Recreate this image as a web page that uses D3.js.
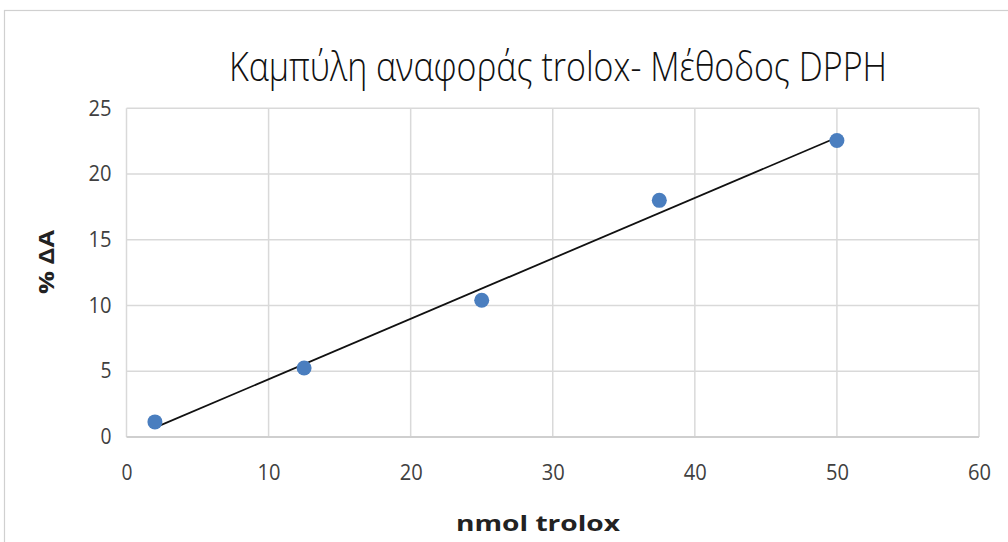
<!DOCTYPE html>
<html><head><meta charset="utf-8">
<script src="https://cdn.jsdelivr.net/npm/d3@7"></script>
<style>body{margin:0;background:#fff}svg{display:block}</style>
</head><body>
<script>
const xValues = [2, 12.5, 25, 37.5, 50];
const yValues = [1.15, 5.25, 10.4, 18.0, 22.55];
const xTicks = [0, 10, 20, 30, 40, 50, 60];
const yTicks = [0, 5, 10, 15, 20, 25];
const title = "Καμπύλη αναφοράς trolox- Μέθοδος DPPH";
const xTitle = "nmol trolox";
const yTitle = "% ΔA";

const W = 1008, H = 542;
const svg = d3.select("body").append("svg").attr("width", W).attr("height", H);
svg.append("rect").attr("x", 4.5).attr("y", 10.5).attr("width", 1020).attr("height", 560)
  .attr("fill", "#fff").attr("stroke", "#d0d0d0").attr("stroke-width", 1.2);

const x = d3.scaleLinear().domain([0, 60]).range([126.5, 979]);
const y = d3.scaleLinear().domain([0, 25]).range([437, 108.3]);

// gridlines
const g = svg.append("g");
g.selectAll(".vg").data(xTicks).join("line")
  .attr("x1", d => x(d)).attr("x2", d => x(d)).attr("y1", y(25)).attr("y2", y(0))
  .attr("stroke", "#d9d9d9").attr("stroke-width", 1.5);
g.selectAll(".hg").data(yTicks).join("line")
  .attr("x1", x(0)).attr("x2", x(60)).attr("y1", d => y(d)).attr("y2", d => y(d))
  .attr("stroke", d => d === 0 ? "#cfcfcf" : "#d9d9d9").attr("stroke-width", d => d === 0 ? 2 : 1.5);

// axes labels via d3 axes
const font = "'Open Sans', 'DejaVu Sans', sans-serif";
const xa = svg.append("g").attr("transform", `translate(0,${y(0)})`)
  .call(d3.axisBottom(x).tickValues(xTicks).tickSize(0).tickPadding(28));
xa.select(".domain").remove();
xa.selectAll("text").attr("font-family", font).attr("font-size", 21).attr("fill", "#404040")
  .attr("textLength", d => d === 0 ? 11 : 23).attr("lengthAdjust", "spacingAndGlyphs");
const ya = svg.append("g").attr("transform", `translate(${x(0)},0)`)
  .call(d3.axisLeft(y).tickValues(yTicks).tickSize(0).tickPadding(15));
ya.select(".domain").remove();
ya.selectAll("text").attr("font-family", font).attr("font-size", 21).attr("fill", "#404040")
  .attr("textLength", d => d < 10 ? 11 : 23).attr("lengthAdjust", "spacingAndGlyphs");

// trendline (least squares from data)
const mx = d3.mean(xValues), my = d3.mean(yValues);
const slope = d3.sum(xValues.map((v, i) => (v - mx) * (yValues[i] - my))) / d3.sum(xValues.map(v => (v - mx) ** 2));
const icpt = my - slope * mx;
const x0 = d3.min(xValues), x1 = d3.max(xValues);
svg.append("line").attr("x1", x(x0)).attr("y1", y(icpt + slope * x0))
  .attr("x2", x(x1)).attr("y2", y(icpt + slope * x1))
  .attr("stroke", "#111").attr("stroke-width", 1.8);

// points
svg.selectAll(".pt").data(xValues).join("circle")
  .attr("cx", d => x(d)).attr("cy", (d, i) => y(yValues[i])).attr("r", 7.5)
  .attr("fill", "#4a7ebf");

// titles
svg.append("text").attr("x", 558).attr("y", 81).attr("text-anchor", "middle")
  .attr("font-family", font).attr("font-weight", 300).attr("font-size", 40).attr("fill", "#111")
  .attr("textLength", 658).attr("lengthAdjust", "spacingAndGlyphs").text(title);
svg.append("text").attr("x", 538).attr("y", 531).attr("text-anchor", "middle")
  .attr("font-family", font).attr("font-weight", 700).attr("font-size", 22).attr("fill", "#222")
  .attr("textLength", 164).attr("lengthAdjust", "spacingAndGlyphs").text(xTitle);
svg.append("text").attr("transform", "translate(54,262) rotate(-90)").attr("text-anchor", "middle")
  .attr("font-family", font).attr("font-weight", 700).attr("font-size", 22).attr("fill", "#222")
  .attr("textLength", 64).attr("lengthAdjust", "spacingAndGlyphs").text(yTitle);
</script>
</body></html>
